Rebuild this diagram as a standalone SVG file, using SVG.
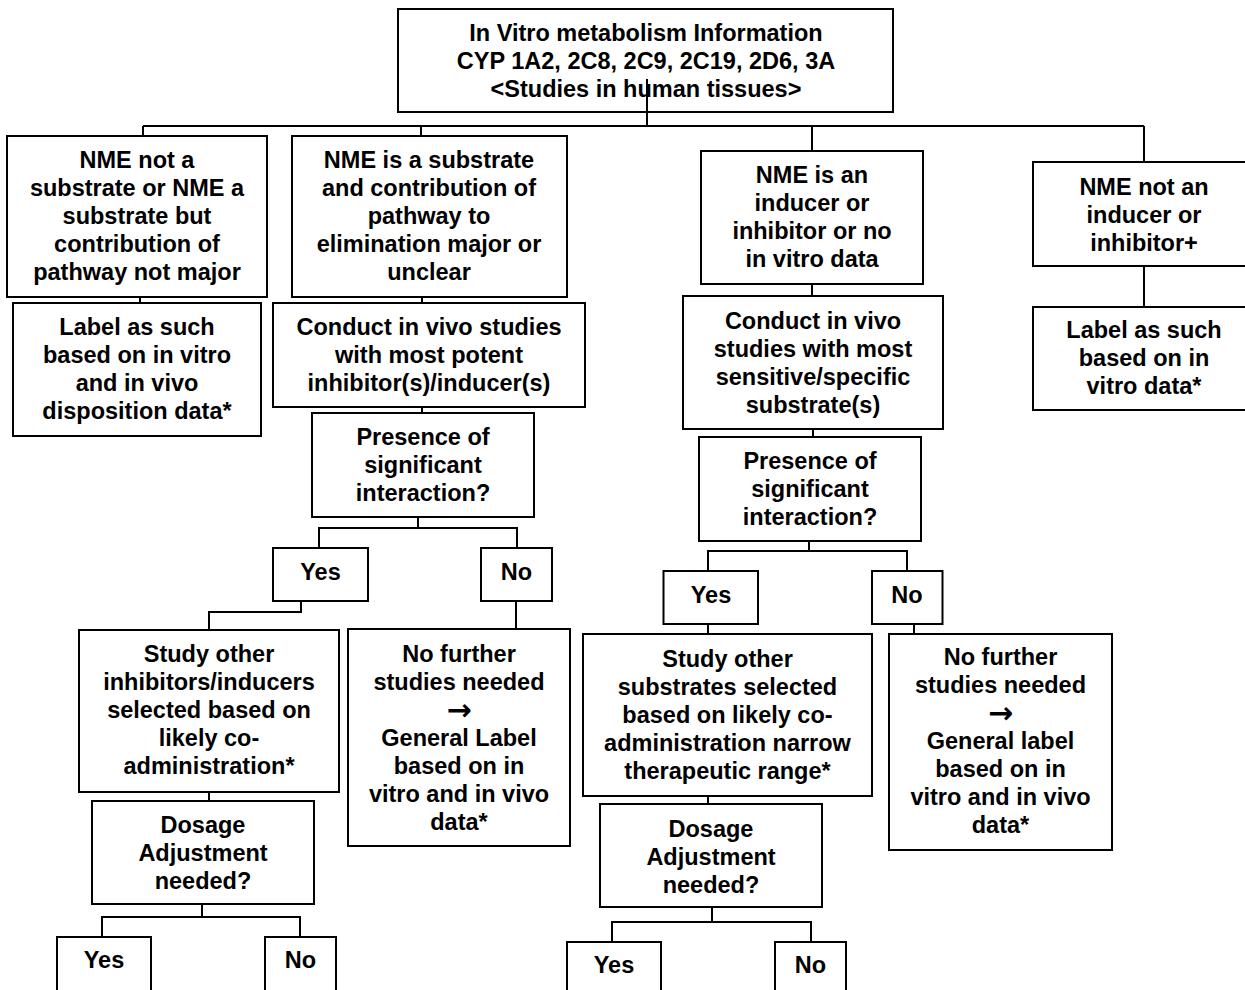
<svg xmlns="http://www.w3.org/2000/svg" width="1245" height="990" viewBox="0 0 1245 990">
<style>
rect{fill:#fff;stroke:#000;stroke-width:2}
text{font-family:"Liberation Sans",Arial,sans-serif;font-weight:bold;font-size:23.5px;text-anchor:middle;fill:#000}
.ar{font-family:"DejaVu Sans",sans-serif;font-size:30px}
#connectors path{fill:none;stroke:#000;stroke-width:2}
</style>
<rect x="0" y="0" width="1245" height="990" style="stroke:none"/>
<g id="top"><rect x="398" y="9" width="495" height="103"/><text x="646" y="41">In Vitro metabolism Information</text><text x="646" y="69">CYP 1A2, 2C8, 2C9, 2C19, 2D6, 3A</text><text x="646" y="97">&lt;Studies in human tissues&gt;</text></g>
<g id="n1"><rect x="7" y="136" width="260" height="161"/><text x="137" y="168">NME not a</text><text x="137" y="196">substrate or NME a</text><text x="137" y="224">substrate but</text><text x="137" y="252">contribution of</text><text x="137" y="280">pathway not major</text></g>
<g id="n2"><rect x="292" y="136" width="275" height="161"/><text x="429" y="168">NME is a substrate</text><text x="429" y="196">and contribution of</text><text x="429" y="224">pathway to</text><text x="429" y="252">elimination major or</text><text x="429" y="280">unclear</text></g>
<g id="n3"><rect x="701" y="151" width="222" height="133"/><text x="812" y="183">NME is an</text><text x="812" y="211">inducer or</text><text x="812" y="239">inhibitor or no</text><text x="812" y="267">in vitro data</text></g>
<g id="n4"><rect x="1033" y="162" width="222" height="104"/><text x="1144" y="195">NME not an</text><text x="1144" y="223">inducer or</text><text x="1144" y="251">inhibitor+</text></g>
<g id="l1"><rect x="13" y="303" width="248" height="133"/><text x="137" y="335">Label as such</text><text x="137" y="363">based on in vitro</text><text x="137" y="391">and in vivo</text><text x="137" y="419">disposition data*</text></g>
<g id="c2"><rect x="273" y="303" width="312" height="104"/><text x="429" y="335">Conduct in vivo studies</text><text x="429" y="363">with most potent</text><text x="429" y="391">inhibitor(s)/inducer(s)</text></g>
<g id="p2"><rect x="312" y="413" width="222" height="104"/><text x="423" y="445">Presence of</text><text x="423" y="473">significant</text><text x="423" y="501">interaction?</text></g>
<g id="y2"><rect x="273" y="548" width="95" height="53"/><text x="320.5" y="580">Yes</text></g>
<g id="no2"><rect x="481" y="548" width="71" height="53"/><text x="516.5" y="580">No</text></g>
<g id="s2"><rect x="79" y="630" width="260" height="162"/><text x="209" y="662">Study other</text><text x="209" y="690">inhibitors/inducers</text><text x="209" y="718">selected based on</text><text x="209" y="746">likely co-</text><text x="209" y="774">administration*</text></g>
<g id="f2"><rect x="348" y="629" width="222" height="217"/><text x="459" y="662">No further</text><text x="459" y="690">studies needed</text><text class="ar" x="459" y="720">→</text><text x="459" y="746">General Label</text><text x="459" y="774">based on in</text><text x="459" y="802">vitro and in vivo</text><text x="459" y="830">data*</text></g>
<g id="d2"><rect x="92" y="801" width="222" height="103"/><text x="203" y="833">Dosage</text><text x="203" y="861">Adjustment</text><text x="203" y="889">needed?</text></g>
<g id="dy2"><rect x="57" y="937" width="94" height="70"/><text x="104" y="968">Yes</text></g>
<g id="dn2"><rect x="265" y="937" width="71" height="70"/><text x="300.5" y="968">No</text></g>
<g id="c3"><rect x="683" y="296" width="260" height="133"/><text x="813" y="329">Conduct in vivo</text><text x="813" y="357">studies with most</text><text x="813" y="385">sensitive/specific</text><text x="813" y="413">substrate(s)</text></g>
<g id="l4"><rect x="1033" y="307" width="222" height="103"/><text x="1144" y="338">Label as such</text><text x="1144" y="366">based on in</text><text x="1144" y="394">vitro data*</text></g>
<g id="p3"><rect x="699" y="437" width="222" height="104"/><text x="810" y="469">Presence of</text><text x="810" y="497">significant</text><text x="810" y="525">interaction?</text></g>
<g id="y3"><rect x="663.5" y="571" width="94.5" height="53"/><text x="711" y="603">Yes</text></g>
<g id="no3"><rect x="872" y="571" width="70.5" height="53"/><text x="907" y="603">No</text></g>
<g id="s3"><rect x="583" y="634" width="289" height="162"/><text x="727.5" y="667">Study other</text><text x="727.5" y="695">substrates selected</text><text x="727.5" y="723">based on likely co-</text><text x="727.5" y="751">administration narrow</text><text x="727.5" y="779">therapeutic range*</text></g>
<g id="f3"><rect x="889" y="634" width="223" height="216"/><text x="1000.5" y="665">No further</text><text x="1000.5" y="693">studies needed</text><text class="ar" x="1000.5" y="723">→</text><text x="1000.5" y="749">General label</text><text x="1000.5" y="777">based on in</text><text x="1000.5" y="805">vitro and in vivo</text><text x="1000.5" y="833">data*</text></g>
<g id="d3"><rect x="600" y="804" width="222" height="103"/><text x="711" y="837">Dosage</text><text x="711" y="865">Adjustment</text><text x="711" y="893">needed?</text></g>
<g id="dy3"><rect x="567" y="942" width="94" height="70"/><text x="614" y="973">Yes</text></g>
<g id="dn3"><rect x="775" y="942" width="71" height="70"/><text x="810.5" y="973">No</text></g>
<g id="connectors">
<path d="M647 79V126M143 126H1144M143 126V136M421 126V136M812 126V151M1144 126V162"/>
<path d="M140 297V303M422 297V303M422 407V413M418 517V528M319 548V528H517V548M301 601V612H209V630M516 601V629M209 792V801M202 904V917M102 937V917H300V937"/>
<path d="M812 284V296M1144 266V307M813 429V437M809 541V551M708 571V551H907V571M708 624V634M914 624V634M708 796V804M712 907V922M612 942V922H811V942"/>
</g>
</svg>
